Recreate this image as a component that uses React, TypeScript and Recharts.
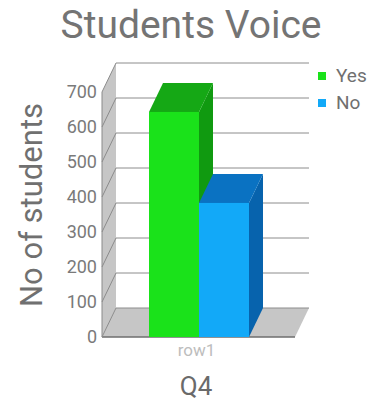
import React from 'react';
import { BarChart, Bar, XAxis, YAxis, CartesianGrid, Legend } from 'recharts';

const categories = ['row1'];
const seriesNames = ['Yes', 'No'];
const yesValues = [643];
const noValues = [383];
const yTicks = [0, 100, 200, 300, 400, 500, 600, 700];

const data = categories.map((name, i) => ({ name, Yes: yesValues[i], No: noValues[i] }));

// depth of the fake 3d box
const DX = 14;
const DY = 29;

const make3DBar = (top: string, side: string) => (props: any) => {
  const { x, y, width, height, fill } = props;
  if (!height) return <g />;
  const r = x + width;
  const b = y + height;
  return (
    <g>
      <polygon points={`${r},${y} ${r + DX},${y - DY} ${r + DX},${b - DY} ${r},${b}`} fill={side} />
      <polygon points={`${x},${y} ${x + DX},${y - DY} ${r + DX},${y - DY} ${r},${y}`} fill={top} />
      <rect x={x} y={y} width={width} height={height} fill={fill} />
    </g>
  );
};

// floor + left wall, drawn once at the zero line
const wallLine = (props: any) => {
  const { x1, y1, x2, y, height } = props;
  if (Math.abs(y1 - (y + height)) > 0.5) return <g />;
  return (
    <g>
      <polygon
        points={`${x1},${y1} ${x2},${y1} ${x2 + DX},${y1 - DY} ${x1 + DX},${y1 - DY}`}
        fill="#c6c6c6"
      />
      <polygon
        points={`${x1},${y1} ${x1},${y} ${x1 + DX},${y - DY} ${x1 + DX},${y1 - DY}`}
        fill="#c6c6c6"
      />
      <line x1={x1} y1={y} x2={x1} y2={y1} stroke="#8a8a8a" />
      <line x1={x1} y1={y1} x2={x2} y2={y1} stroke="#6e6e6e" strokeWidth={1.5} />
    </g>
  );
};

const gridLine = (props: any) => {
  const { x1, y1, x2 } = props;
  return (
    <g>
      <line x1={x1} y1={y1} x2={x1 + DX} y2={y1 - DY} stroke="#8c8c8c" />
      <line x1={x1 + DX} y1={y1 - DY} x2={x2 + DX} y2={y1 - DY} stroke="#8c8c8c" />
    </g>
  );
};

const renderLegend = ({ payload }: any) => {
  const items = [...(payload || [])].sort(
    (a: any, b: any) => seriesNames.indexOf(a.value) - seriesNames.indexOf(b.value)
  );
  return (
    <div>
      {items.map((p: any) => (
        <div key={p.value} style={{ display: 'flex', alignItems: 'center', height: 27 }}>
          <span style={{ width: 8, height: 8, background: p.color, marginRight: 10 }} />
          <span style={{ color: '#707070', fontSize: 19 }}>{p.value}</span>
        </div>
      ))}
    </div>
  );
};

export default function App() {
  return (
    <div
      style={{
        position: 'absolute',
        left: 0,
        top: 0,
        width: 374,
        height: 403,
        background: '#fff',
        fontFamily: 'Roboto, sans-serif',
      }}
    >
      <div
        style={{
          position: 'absolute',
          top: 6,
          left: 0,
          width: 382,
          textAlign: 'center',
          fontSize: 39,
          lineHeight: '39px',
          color: '#747474',
        }}
      >
        Students Voice
      </div>
      <BarChart
        width={374}
        height={403}
        data={data}
        margin={{ top: 92, right: 79, bottom: 0, left: 42 }}
        barCategoryGap={47}
        barGap={0}
      >
        <CartesianGrid horizontal={wallLine} vertical={false} />
        <CartesianGrid horizontal={gridLine} vertical={false} />
        <XAxis
          dataKey="name"
          height={66}
          axisLine={false}
          tickLine={false}
          tickSize={0}
          tickMargin={7}
          dx={-2}
          tick={{ fill: '#bdbdbd', fontSize: 17 }}
          label={() => (
            <text x={196} y={386} textAnchor="middle" dominantBaseline="central" fontSize={26} fill="#6a6a6a">
              Q4
            </text>
          )}
        />
        <YAxis
          width={60}
          domain={[0, 700]}
          ticks={yTicks}
          axisLine={false}
          tickLine={false}
          tickSize={0}
          tickMargin={5}
          tick={{ fill: '#7a7a7a', fontSize: 18 }}
          label={() => (
            <text
              x={31}
              y={205}
              transform="rotate(-90, 31, 205)"
              textAnchor="middle"
              dominantBaseline="central"
              fontSize={31}
              fill="#707070"
            >
              No of students
            </text>
          )}
        />
        <Legend
          layout="horizontal"
          verticalAlign="middle"
          align="center"
          content={renderLegend}
          wrapperStyle={{ left: 318, top: 62, width: 60 }}
        />
        <Bar dataKey="Yes" fill="#1ae21a" shape={make3DBar('#15a815', '#109a10')} isAnimationActive={false} />
        <Bar dataKey="No" fill="#12a9f8" shape={make3DBar('#0a72c2', '#0763ad')} isAnimationActive={false} />
      </BarChart>
    </div>
  );
}
